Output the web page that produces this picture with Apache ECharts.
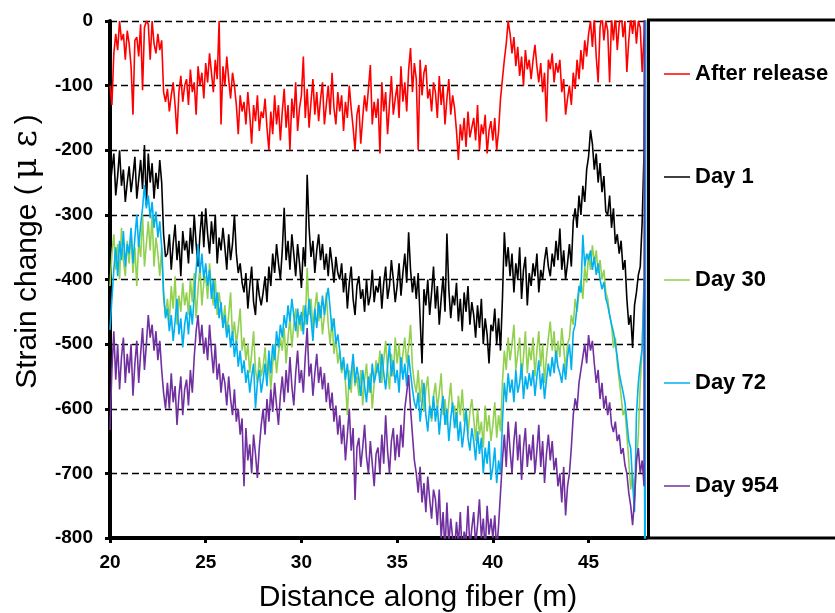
<!DOCTYPE html>
<html>
<head>
<meta charset="utf-8">
<script src="https://cdn.jsdelivr.net/npm/echarts@6/dist/echarts.min.js"></script>
<style>
html,body{margin:0;padding:0;background:#fff;}
#chart{width:835px;height:613px;}
</style>
</head>
<body>
<div id="chart"></div>
<script>
// Sampling grid: distance along fiber (m), first sample and spacing
const xStart = 20;
const xStep = 0.1;

const seriesNames = ['After release', 'Day 1', 'Day 30', 'Day 72', 'Day 954'];
const yTicks = [0, -100, -200, -300, -400, -500, -600, -700, -800];
const xTicks = [20, 25, 30, 35, 40, 45];

// Strain change (µε), one value per 0.1 m from 20.0 to 47.9 m
const afterRelease = [
  -100,-130,-50,-20,-45,0,-30,-20,-60,-15,
  -35,-70,-145,-30,-25,-55,-5,-107,-10,0,
  -5,-60,0,-35,-50,-20,-45,-30,-110,-125,
  -105,-140,-115,-95,-130,-175,-110,-85,-125,-100,
  -90,-130,-75,-110,-95,-145,-70,-100,-80,-120,
  -65,-95,-50,-80,-110,-60,-90,0,-160,-70,
  -100,-55,-90,-120,-80,-100,-130,-175,-115,-140,
  -125,-160,-110,-145,-190,-130,-155,-115,-170,-140,
  -150,-120,-165,-200,-140,-175,-115,-160,-130,-185,
  -140,-105,-165,-130,-200,-120,-150,-95,-170,-135,
  -115,-55,-150,-105,-165,-125,-90,-145,-110,-155,
  -120,-95,-160,-130,-100,-145,-80,-135,-160,-110,
  -140,-115,-170,-125,-150,-100,-135,-165,-200,-145,
  -130,-190,-150,-115,-140,-105,-68,-160,-125,-150,
  -120,-205,-95,-140,-110,-175,-130,-85,-145,-120,
  -100,-150,-70,-125,-95,-140,-75,-42,-110,-65,
  -90,-200,-60,-115,-80,-68,-120,-105,-140,-95,
  -110,-150,-85,-130,-100,-160,-120,-90,-145,-115,
  -135,-170,-215,-160,-185,-150,-195,-140,-180,-165,
  -150,-185,-130,-200,-160,-175,-145,-205,-170,-155,
  -185,-150,-200,-170,-120,-90,-60,-35,0,-20,
  -50,-25,-70,-40,-85,-55,-100,-45,-75,-60,
  -90,-60,-37,-70,-95,-65,-110,-80,-156,-60,
  -75,-50,-95,-65,-80,-60,-110,-90,-145,-120,
  -100,-130,-80,-105,-60,-90,-45,-75,-30,-55,
  -20,0,-40,5,-55,-95,-10,10,-30,0,
  -15,-95,5,-30,10,-45,-5,15,-25,0,
  -79,-30,5,-20,10,-35,0,-10,-79,-20
];
const day1 = [
  -260,-230,-205,-270,-240,-200,-255,-230,-280,-250,
  -225,-265,-240,-210,-275,-245,-215,-260,-192,-285,
  -205,-250,-220,-275,-235,-260,-215,-250,-330,-365,
  -360,-330,-385,-345,-315,-370,-340,-395,-325,-355,
  -340,-375,-320,-360,-300,-345,-380,-330,-295,-350,
  -290,-330,-360,-310,-345,-300,-375,-335,-355,-320,
  -350,-385,-330,-370,-345,-300,-360,-390,-375,-405,
  -420,-390,-445,-410,-380,-435,-455,-400,-425,-440,
  -420,-395,-435,-380,-410,-360,-390,-345,-375,-400,
  -355,-289,-370,-340,-385,-330,-360,-395,-345,-375,
  -413,-350,-380,-238,-320,-365,-340,-390,-355,-330,
  -370,-345,-385,-360,-395,-350,-375,-405,-365,-390,
  -400,-375,-420,-390,-445,-405,-380,-430,-455,-410,
  -395,-430,-415,-450,-400,-440,-425,-385,-435,-410,
  -420,-395,-445,-405,-380,-430,-410,-370,-400,-435,
  -410,-375,-425,-390,-360,-405,-327,-385,-420,-395,
  -430,-390,-460,-530,-415,-440,-400,-455,-420,-380,
  -445,-410,-470,-430,-395,-450,-329,-415,-460,-425,
  -440,-405,-465,-430,-480,-420,-450,-410,-470,-435,
  -455,-490,-440,-475,-430,-500,-460,-485,-530,-470,
  -480,-445,-500,-460,-510,-430,-327,-380,-350,-395,
  -360,-420,-375,-400,-350,-430,-385,-365,-440,-390,
  -410,-375,-395,-360,-420,-385,-400,-370,-350,-380,
  -395,-360,-380,-340,-370,-321,-385,-355,-400,-375,
  -345,-380,-310,-290,-320,-270,-300,-255,-280,-230,
  -210,-169,-190,-230,-205,-250,-220,-265,-240,-295,
  -300,-270,-320,-290,-345,-330,-360,-340,-385,-370,
  -430,-470,-455,-506,-440,-420,-393,-380,-311,-200
];
const day30 = [
  -410,-360,-330,-385,-345,-400,-320,-370,-395,-340,
  -375,-325,-390,-350,-410,-340,-365,-300,-380,-345,
  -310,-355,-300,-380,-335,-360,-395,-350,-430,-455,
  -430,-465,-410,-445,-395,-470,-425,-450,-405,-440,
  -420,-455,-400,-435,-390,-460,-415,-380,-440,-405,
  -395,-430,-375,-415,-440,-400,-455,-420,-445,-470,
  -440,-485,-455,-420,-490,-465,-500,-475,-445,-510,
  -490,-525,-500,-545,-515,-480,-540,-560,-520,-550,
  -535,-505,-555,-520,-570,-530,-500,-545,-515,-490,
  -510,-475,-530,-490,-460,-505,-470,-445,-490,-455,
  -480,-440,-470,-382,-455,-430,-475,-445,-420,-465,
  -440,-485,-455,-420,-470,-500,-460,-515,-490,-530,
  -510,-545,-525,-560,-610,-540,-575,-520,-565,-550,
  -580,-540,-595,-555,-530,-575,-545,-600,-560,-525,
  -545,-510,-560,-525,-495,-540,-570,-515,-550,-490,
  -530,-500,-545,-515,-490,-530,-505,-470,-535,-560,
  -575,-540,-590,-555,-605,-570,-550,-595,-620,-580,
  -560,-600,-575,-545,-610,-585,-625,-590,-560,-605,
  -595,-630,-580,-610,-570,-620,-600,-640,-605,-585,
  -615,-650,-600,-640,-620,-660,-595,-635,-610,-650,
  -625,-590,-645,-610,-635,-560,-510,-540,-490,-525,
  -500,-470,-540,-515,-490,-555,-520,-480,-545,-505,
  -525,-490,-550,-510,-480,-535,-500,-560,-520,-490,
  -465,-510,-480,-530,-495,-520,-475,-505,-540,-500,
  -490,-455,-470,-430,-450,-420,-400,-430,-380,-405,
  -360,-385,-347,-375,-355,-390,-370,-400,-385,-420,
  -430,-455,-470,-506,-490,-530,-555,-580,-610,-600,
  -640,-680,-725,-700,-738,-690,-640,-560,-506,-400
];
const day72 = [
  -478,-430,-385,-350,-395,-340,-370,-325,-380,-345,
  -360,-320,-375,-335,-300,-350,-315,-290,-254,-290,
  -270,-305,-280,-320,-295,-335,-310,-350,-420,-460,
  -445,-480,-455,-495,-465,-430,-485,-460,-505,-470,
  -450,-485,-440,-470,-425,-385,-345,-390,-360,-400,
  -375,-410,-385,-430,-400,-445,-420,-460,-435,-475,
  -455,-490,-470,-505,-480,-520,-495,-535,-510,-545,
  -525,-560,-540,-575,-550,-530,-599,-560,-540,-575,
  -555,-530,-565,-510,-545,-500,-525,-480,-505,-470,
  -490,-455,-475,-440,-465,-430,-455,-480,-445,-470,
  -450,-485,-440,-470,-430,-460,-495,-445,-475,-435,
  -460,-425,-455,-430,-413,-445,-480,-460,-500,-485,
  -510,-540,-520,-555,-530,-570,-545,-515,-560,-535,
  -555,-580,-540,-565,-590,-550,-575,-530,-560,-545,
  -530,-560,-515,-545,-570,-535,-500,-550,-525,-560,
  -540,-575,-520,-555,-530,-565,-517,-545,-570,-590,
  -600,-575,-620,-590,-560,-610,-635,-595,-615,-580,
  -620,-595,-640,-605,-580,-625,-600,-650,-615,-590,
  -630,-605,-650,-620,-660,-635,-600,-645,-665,-630,
  -650,-680,-635,-670,-645,-700,-660,-685,-650,-710,
  -690,-660,-715,-680,-700,-620,-560,-590,-545,-575,
  -555,-590,-540,-575,-560,-530,-585,-550,-570,-545,
  -565,-540,-580,-550,-525,-570,-545,-585,-555,-530,
  -550,-520,-545,-510,-535,-545,-560,-530,-555,-520,
  -500,-540,-481,-470,-440,-410,-420,-331,-380,-360,
  -370,-355,-385,-365,-393,-375,-400,-415,-404,-429,
  -440,-455,-470,-481,-500,-520,-545,-560,-574,-590,
  -620,-650,-661,-714,-760,-610,-560,-530,-506,-400
];
const day954 = [
  -633,-540,-480,-555,-500,-570,-520,-490,-560,-515,
  -545,-500,-580,-530,-495,-560,-515,-475,-540,-500,
  -455,-490,-470,-510,-480,-525,-495,-540,-575,-600,
  -560,-600,-545,-590,-565,-625,-580,-550,-610,-570,
  -555,-595,-540,-575,-520,-480,-455,-500,-470,-515,
  -490,-525,-470,-510,-545,-500,-555,-530,-575,-545,
  -560,-595,-550,-585,-610,-570,-620,-600,-640,-615,
  -720,-630,-680,-655,-700,-640,-670,-707,-660,-625,
  -600,-640,-585,-620,-570,-605,-560,-595,-625,-580,
  -550,-590,-540,-575,-520,-565,-595,-545,-510,-560,
  -540,-575,-520,-475,-550,-530,-580,-545,-515,-560,
  -535,-570,-545,-590,-560,-600,-575,-620,-595,-640,
  -610,-655,-625,-680,-640,-600,-665,-630,-741,-660,
  -645,-690,-660,-625,-675,-700,-650,-685,-720,-670,
  -660,-700,-640,-685,-610,-665,-700,-650,-630,-680,
  -640,-675,-625,-660,-600,-575,-548,-600,-640,-680,
  -700,-730,-690,-745,-715,-760,-705,-740,-770,-725,
  -740,-780,-725,-800,-760,-820,-745,-810,-770,-800,
  -820,-775,-810,-760,-830,-790,-805,-750,-815,-785,
  -760,-810,-780,-740,-800,-770,-820,-750,-795,-770,
  -800,-765,-820,-780,-730,-680,-640,-690,-620,-665,
  -700,-650,-620,-680,-640,-710,-660,-630,-690,-655,
  -680,-640,-700,-665,-625,-690,-650,-715,-670,-640,
  -680,-650,-695,-676,-720,-700,-745,-690,-765,-720,
  -700,-660,-610,-584,-600,-560,-540,-520,-500,-530,
  -486,-510,-495,-530,-560,-540,-585,-560,-600,-580,
  -610,-590,-625,-636,-620,-650,-640,-670,-661,-687,
  -700,-730,-750,-780,-740,-680,-661,-700,-680,-720
];
// End of the fiber: readings leave the plotted range (clipped by the axes)
const tailRelease = [[48.0, 300]];
const tailDay1 = [[48.0, 300]];
const tailDay30 = [[48.0, 300]];
const tailDay72 = [[47.95, -1000], [48.0, 300]];
const tailDay954 = [[47.93, 300]];

const seriesColors = ['#FF0000', '#000000', '#92D050', '#00B0F0', '#7030A0'];

function toPairs(vals, tail) {
  const pts = vals.map(function (v, i) { return [+(xStart + i * xStep).toFixed(2), v]; });
  return pts.concat(tail);
}

const allValues = [afterRelease, day1, day30, day72, day954];
const allTails = [tailRelease, tailDay1, tailDay30, tailDay72, tailDay954];

const FONT = 'Arial, "Liberation Sans", Helvetica, sans-serif';

const chart = echarts.init(document.getElementById('chart'), null, { renderer: 'canvas' });

const option = {
  animation: false,
  backgroundColor: '#ffffff',
  grid: { left: 110, right: 189, top: 21, bottom: 75, containLabel: false, outerBoundsMode: 'none' },
  xAxis: {
    type: 'value',
    min: 20,
    max: 48,
    interval: 5,
    name: 'Distance along fiber (m)',
    nameLocation: 'middle',
    nameGap: 45,
    nameTextStyle: { fontFamily: FONT, fontSize: 30, color: '#000', padding: [0, 0, 0, 80] },
    axisLine: { onZero: false, lineStyle: { color: '#000', width: 4 } },
    axisTick: { show: true, inside: false, length: 5, lineStyle: { color: '#000', width: 3 } },
    axisLabel: {
      fontFamily: FONT, fontSize: 19, fontWeight: 'bold', color: '#000', margin: 15,
      showMaxLabel: false,
      formatter: function (v) { return xTicks.indexOf(v) >= 0 ? String(v) : ''; }
    },
    splitLine: { show: false }
  },
  yAxis: {
    type: 'value',
    min: -800,
    max: 0,
    interval: 100,
    name: '{a|Strain change (\u2009}{b|\u03bc \u03b5}{a|\u2009)}',
    nameLocation: 'middle',
    nameGap: 62,
    nameRotate: 90,
    nameTextStyle: {
      fontFamily: FONT, fontSize: 30, color: '#000', padding: [0, 0, 0, 56],
      rich: {
        a: { fontFamily: FONT, fontSize: 30, color: '#000' },
        b: { fontFamily: '"DejaVu Serif", serif', fontSize: 33, color: '#000' }
      }
    },
    axisLine: { onZero: false, lineStyle: { color: '#000', width: 4 } },
    axisTick: { show: true, inside: false, length: 5, lineStyle: { color: '#000', width: 3 } },
    axisLabel: {
      fontFamily: FONT, fontSize: 19, fontWeight: 'bold', color: '#000', margin: 17,
      formatter: function (v) { return yTicks.indexOf(v) >= 0 ? String(v) : ''; }
    },
    splitLine: { show: true, lineStyle: { color: '#000', width: 1.3, type: [7, 4] } }
  },
  legend: {
    orient: 'vertical',
    left: 659,
    top: 58,
    itemWidth: 26,
    itemHeight: 14,
    itemGap: 81,
    icon: 'path://M0,7 L26,7 L26,8.5 L0,8.5 Z',
    textStyle: { fontFamily: FONT, fontSize: 22, fontWeight: 'bold', color: '#000' },
    data: seriesNames
  },
  graphic: [{
    type: 'rect',
    shape: { x: 648.5, y: 20, width: 220, height: 518 },
    style: { fill: 'none', stroke: '#000', lineWidth: 3 },
    z: 100
  }],
  series: seriesNames.map(function (name, k) {
    return {
      name: name,
      type: 'line',
      data: toPairs(allValues[k], allTails[k]),
      showSymbol: false,
      symbol: 'none',
      clip: true,
      color: seriesColors[k],
      lineStyle: { color: seriesColors[k], width: 1.6 },
      itemStyle: { color: seriesColors[k] },
      emphasis: { disabled: true }
    };
  })
};

chart.setOption(option);
</script>
</body>
</html>
